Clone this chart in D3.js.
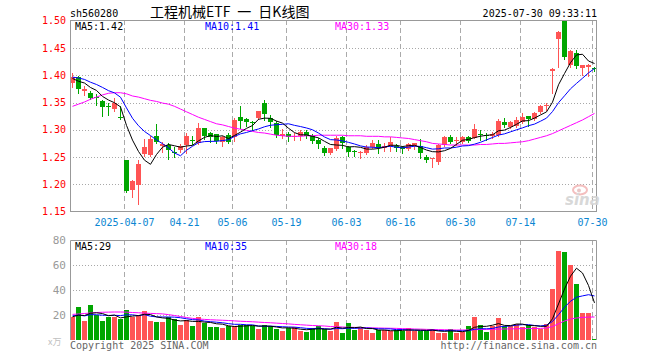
<!DOCTYPE html>
<html><head><meta charset="utf-8">
<script src="https://cdn.jsdelivr.net/npm/d3@7/dist/d3.min.js"></script>
<style>body{margin:0;background:#fff}svg{display:block}</style>
</head><body>
<script>
// ---------- data ----------
const dates = ["03-24","03-25","03-26","03-27","03-28","03-31","04-01","04-02","04-03","04-07",
"04-08","04-09","04-10","04-11","04-14","04-15","04-16","04-17","04-18","04-21",
"04-22","04-23","04-24","04-25","04-28","04-29","04-30","05-06","05-07","05-08",
"05-09","05-12","05-13","05-14","05-15","05-16","05-19","05-20","05-21","05-22",
"05-23","05-26","05-27","05-28","05-29","05-30","06-03","06-04","06-05","06-06",
"06-09","06-10","06-11","06-12","06-13","06-16","06-17","06-18","06-19","06-20",
"06-23","06-24","06-25","06-26","06-27","06-30","07-01","07-02","07-03","07-04",
"07-07","07-08","07-09","07-10","07-11","07-14","07-15","07-16","07-17","07-18",
"07-21","07-22","07-23","07-24","07-25","07-28","07-29","07-30"];
const opens = [1.386,1.397,1.372,1.368,1.360,1.352,1.343,1.339,1.324,1.245,
1.190,1.198,1.255,1.254,1.289,1.271,1.272,1.259,1.263,1.272,
1.281,1.275,1.303,1.294,1.292,1.278,1.291,1.287,1.323,1.320,
1.315,1.322,1.350,1.321,1.313,1.288,1.292,1.287,1.289,1.295,
1.288,1.282,1.267,1.257,1.264,1.286,1.268,1.261,1.259,1.257,
1.269,1.274,1.267,1.271,1.271,1.269,1.265,1.270,1.271,1.250,
1.247,1.240,1.272,1.287,1.279,1.278,1.286,1.285,1.293,1.291,
1.288,1.291,1.314,1.305,1.307,1.315,1.325,1.320,1.333,1.344,
1.408,1.466,1.502,1.418,1.441,1.414,1.416,1.413];
const highs = [1.404,1.398,1.380,1.372,1.366,1.355,1.350,1.358,1.343,1.245,
1.207,1.245,1.283,1.288,1.311,1.277,1.276,1.269,1.273,1.294,
1.289,1.312,1.304,1.295,1.293,1.288,1.294,1.321,1.343,1.321,
1.316,1.335,1.354,1.327,1.316,1.301,1.295,1.294,1.299,1.299,
1.292,1.285,1.270,1.267,1.288,1.289,1.271,1.263,1.261,1.272,
1.281,1.281,1.276,1.286,1.273,1.270,1.276,1.276,1.283,1.254,
1.249,1.274,1.289,1.290,1.286,1.289,1.288,1.311,1.299,1.294,
1.295,1.319,1.321,1.317,1.324,1.330,1.326,1.333,1.345,1.349,
1.413,1.482,1.503,1.447,1.446,1.418,1.420,1.416];
const lows = [1.378,1.368,1.364,1.356,1.345,1.326,1.327,1.334,1.319,1.186,
1.177,1.163,1.252,1.251,1.275,1.259,1.246,1.250,1.260,1.258,
1.274,1.274,1.283,1.277,1.275,1.270,1.275,1.280,1.303,1.307,
1.300,1.320,1.318,1.305,1.286,1.285,1.279,1.282,1.282,1.285,
1.276,1.267,1.254,1.255,1.262,1.266,1.251,1.252,1.248,1.256,
1.266,1.258,1.261,1.261,1.261,1.258,1.262,1.264,1.248,1.241,
1.231,1.238,1.270,1.275,1.272,1.276,1.277,1.284,1.282,1.281,
1.285,1.289,1.305,1.303,1.305,1.313,1.307,1.318,1.331,1.337,
1.368,1.416,1.430,1.415,1.413,1.401,1.399,1.408];
const closes = [1.396,1.374,1.374,1.359,1.358,1.341,1.341,1.349,1.321,1.188,
1.206,1.237,1.269,1.283,1.278,1.273,1.262,1.257,1.270,1.289,
1.279,1.303,1.289,1.287,1.280,1.286,1.277,1.318,1.317,1.315,
1.312,1.334,1.329,1.315,1.290,1.293,1.287,1.289,1.295,1.289,
1.279,1.274,1.257,1.266,1.284,1.276,1.260,1.259,1.260,1.268,
1.275,1.266,1.271,1.278,1.267,1.264,1.274,1.275,1.257,1.244,
1.249,1.272,1.286,1.278,1.281,1.287,1.280,1.302,1.291,1.289,
1.292,1.317,1.308,1.315,1.318,1.323,1.320,1.331,1.344,1.346,
1.412,1.480,1.434,1.444,1.417,1.418,1.418,1.411];
const volumes = [18.7,26.7,15.5,28.0,20.0,15.5,18.1,18.1,16.8,24.0,
18.7,20.0,23.5,15.5,14.7,14.7,18.1,16.8,12.0,16.0,
11.5,18.1,13.9,10.7,10.7,9.9,11.5,11.2,12.0,12.0,
11.2,8.8,12.0,11.2,8.8,7.5,9.3,10.1,7.5,6.7,
9.3,11.5,8.5,7.5,14.1,5.9,13.9,8.0,9.9,8.0,
5.9,8.0,8.0,7.2,8.0,7.2,9.9,7.2,7.2,7.2,
8.5,5.9,5.9,8.8,5.9,6.7,11.2,18.4,12.0,6.4,
11.2,17.6,11.2,11.2,12.8,10.7,12.0,10.7,8.5,12.8,
40.8,71.5,70.4,59.7,44.8,21.6,21.6,0.8];
// closes / volumes of the sessions just before the window (for MA5/MA10)
const priorCloses = [1.390,1.400,1.410,1.400,1.395,1.400,1.390,1.400,1.385];
const priorVolumes = [20,22,18,21,19,20,17,19,18];
// MA30 lines
const ma30Price = [1.343,1.347,1.351,1.356,1.360,1.364,1.367,1.368,1.368,1.366,
1.362,1.360,1.357,1.354,1.352,1.349,1.347,1.343,1.338,1.333,
1.328,1.323,1.319,1.315,1.311,1.309,1.306,1.303,1.301,1.299,
1.297,1.295,1.294,1.292,1.290,1.289,1.288,1.288,1.288,1.289,
1.289,1.290,1.290,1.290,1.290,1.290,1.289,1.289,1.289,1.288,
1.288,1.288,1.287,1.287,1.286,1.285,1.284,1.282,1.280,1.278,
1.275,1.274,1.273,1.272,1.272,1.272,1.272,1.272,1.273,1.273,
1.274,1.275,1.275,1.276,1.277,1.278,1.280,1.283,1.286,1.289,
1.293,1.298,1.303,1.308,1.313,1.318,1.324,1.330];
const ma30Volume = [20.5,20.8,21.2,21.6,22.0,22.2,22.3,22.4,22.4,22.3,
22.0,21.8,21.5,21.3,21.1,20.9,20.3,19.6,18.8,18.0,
17.3,16.8,16.5,16.2,16.0,15.8,15.6,15.3,15.0,14.8,
14.6,14.3,14.0,13.8,13.5,13.2,12.9,12.5,12.2,11.9,
11.6,11.4,11.2,10.8,10.6,10.4,10.2,10.1,9.9,9.8,
9.7,9.6,9.5,9.4,9.3,9.1,9.0,8.8,8.7,8.5,
8.4,8.3,8.2,8.1,8.0,8.0,8.1,8.3,8.4,8.5,
8.6,8.7,8.8,8.9,9.0,9.1,9.1,9.2,9.3,9.6,
10.8,13.0,15.2,16.8,17.6,18.1,18.3,18.4];
const priceTicks = [1.50,1.45,1.40,1.35,1.30,1.25,1.20,1.15];
const volumeTicks = [80,60,40,20];
const labelDates = ["04-07","04-21","05-06","05-19","06-03","06-16","06-30","07-14","07-30"];
const labelTexts = ["2025-04-07","04-21","05-06","05-19","06-03","06-16","06-30","07-14","07-30"];

// ---------- drawing ----------
const MONO = "'DejaVu Sans Mono', 'Liberation Mono', monospace";
const RED = "#ff5454", GREEN = "#00a600";
const L = 70, R = 597, T = 20, B = 211, VT = 240, VB = 340;
const n = dates.length;

const svg = d3.select("body").append("svg").attr("width", 660).attr("height", 360)
  .style("font-family", MONO);

const x = d3.scaleLinear().domain([0, n - 1]).range([72.5, 72.5 + 6 * (n - 1)]);
const y = d3.scaleLinear().domain([1.15, 1.50]).range([211.5, 20.8]);
const yv = d3.scaleLinear().domain([0, 80]).range([VB, VT]);

function movingAvg(series, prior, k) {
  const all = prior.concat(series);
  const off = prior.length;
  return series.map((_, i) => d3.mean(all.slice(off + i - k + 1, off + i + 1)));
}
const ma5 = movingAvg(closes, priorCloses, 5);
const ma10 = movingAvg(closes, priorCloses, 10);
const vma5 = movingAvg(volumes, priorVolumes, 5);
const vma10 = movingAvg(volumes, priorVolumes, 10);

const defs = svg.append("defs");
defs.append("clipPath").attr("id", "clipMain").append("rect")
  .attr("x", L).attr("y", T).attr("width", R - L).attr("height", B - T);
defs.append("clipPath").attr("id", "clipVol").append("rect")
  .attr("x", L).attr("y", VT).attr("width", R - L).attr("height", VB - VT);

// header
svg.append("text").attr("x", 70).attr("y", 16.5).attr("font-size", 10).attr("fill", "#000").text("sh560280");
svg.append("text").attr("x", 150).attr("y", 16.5)
  .attr("font-family", "'Noto Sans CJK SC', sans-serif").attr("font-size", 14).attr("fill", "#000")
  .text("工程机械ETF\u2002一\u2002日K线图");
svg.append("text").attr("x", 597).attr("y", 16.5).attr("text-anchor", "end").attr("font-size", 10)
  .attr("fill", "#000").text("2025-07-30 09:33:11");

// horizontal grid (price)
svg.append("g").selectAll("line").data(priceTicks.filter(t => t < 1.50 && t > 1.15)).join("line")
  .attr("x1", L).attr("x2", R)
  .attr("y1", d => Math.round(y(d)) + 0.5).attr("y2", d => Math.round(y(d)) + 0.5)
  .attr("stroke", "#a8a8a8").attr("stroke-dasharray", "1,2");
// horizontal grid (volume)
svg.append("g").selectAll("line").data(volumeTicks.filter(t => t < 80)).join("line")
  .attr("x1", L).attr("x2", R)
  .attr("y1", d => Math.round(yv(d)) + 0.5).attr("y2", d => Math.round(yv(d)) + 0.5)
  .attr("stroke", "#a8a8a8").attr("stroke-dasharray", "1,2");

// vertical grid
const labelIdx = labelDates.map(d => dates.indexOf(d));
const gx = i => Math.round(x(i) - 2.5) + 0.5;
const vg = svg.append("g").attr("stroke", "#aaa").attr("stroke-dasharray", "5,3");
labelIdx.forEach(i => {
  vg.append("line").attr("x1", gx(i)).attr("x2", gx(i)).attr("y1", T).attr("y2", B);
  vg.append("line").attr("x1", gx(i)).attr("x2", gx(i)).attr("y1", VT).attr("y2", VB);
});

// price axis labels
svg.append("g").selectAll("text").data(priceTicks).join("text")
  .attr("x", 66).attr("y", d => y(d) + 3.5).attr("text-anchor", "end")
  .attr("font-size", 10).attr("fill", "#ff0000").text(d => d.toFixed(2));
// volume axis labels
svg.append("g").selectAll("text").data(volumeTicks).join("text")
  .attr("x", 66).attr("y", d => yv(d) + 4).attr("text-anchor", "end")
  .attr("font-size", 11).attr("fill", "#999").text(d => d);

// date labels
svg.append("g").selectAll("text").data(labelIdx).join("text")
  .attr("x", i => gx(i)).attr("y", 225.5).attr("text-anchor", "middle")
  .attr("font-size", 10).attr("fill", "#0a86d2").text((i, k) => labelTexts[k]);

// candles
const cg = svg.append("g").attr("clip-path", "url(#clipMain)").attr("shape-rendering", "crispEdges");
d3.range(n).forEach(i => {
  const up = closes[i] >= opens[i];
  const col = up ? RED : GREEN;
  cg.append("line").attr("x1", x(i)).attr("x2", x(i))
    .attr("y1", Math.round(y(highs[i]))).attr("y2", Math.round(y(lows[i])) + 1)
    .attr("stroke", col);
  const top = Math.round(y(Math.max(opens[i], closes[i])));
  const bot = Math.round(y(Math.min(opens[i], closes[i])));
  cg.append("rect").attr("x", x(i) - 2.5).attr("width", 5)
    .attr("y", top).attr("height", Math.max(1, bot - top)).attr("fill", col);
});

// volume bars
const vb = svg.append("g").attr("clip-path", "url(#clipVol)").attr("shape-rendering", "crispEdges");
vb.selectAll("rect").data(volumes).join("rect")
  .attr("x", (d, i) => x(i) - 2.5).attr("width", 5)
  .attr("y", d => Math.round(yv(d))).attr("height", d => VB - Math.round(yv(d)))
  .attr("fill", (d, i) => closes[i] >= opens[i] ? RED : GREEN);

// MA lines
const lineP = d3.line().x((d, i) => x(i)).y(d => y(d));
const lineV = d3.line().x((d, i) => x(i)).y(d => yv(d));
const mg = svg.append("g").attr("clip-path", "url(#clipMain)").attr("fill", "none").attr("stroke-width", 1);
mg.append("path").attr("d", lineP(ma30Price)).attr("stroke", "#ff00ff");
mg.append("path").attr("d", lineP(ma10)).attr("stroke", "#0000ff");
mg.append("path").attr("d", lineP(ma5)).attr("stroke", "#000");
const vmg = svg.append("g").attr("clip-path", "url(#clipVol)").attr("fill", "none").attr("stroke-width", 1);
vmg.append("path").attr("d", lineV(ma30Volume)).attr("stroke", "#ff00ff");
vmg.append("path").attr("d", lineV(vma10)).attr("stroke", "#0000ff");
vmg.append("path").attr("d", lineV(vma5)).attr("stroke", "#000");

// frames
svg.append("rect").attr("x", L + 0.5).attr("y", T + 0.5).attr("width", R - L - 1).attr("height", B - T)
  .attr("fill", "none").attr("stroke", "#999");
svg.append("path").attr("d", `M${L + 0.5},${VB}V${VT + 0.5}H${R - 0.5}V${VB}`)
  .attr("fill", "none").attr("stroke", "#999");

// MA legends
const last = n - 1;
const fmt2 = d3.format(".2f");
svg.append("text").attr("x", 75).attr("y", 30).attr("font-size", 10).attr("fill", "#000").text("MA5:" + fmt2(ma5[last]));
svg.append("text").attr("x", 205).attr("y", 30).attr("font-size", 10).attr("fill", "#0000ff").text("MA10:" + fmt2(ma10[last]));
svg.append("text").attr("x", 335).attr("y", 30).attr("font-size", 10).attr("fill", "#ff00ff").text("MA30:" + fmt2(ma30Price[last]));
svg.append("text").attr("x", 75).attr("y", 250).attr("font-size", 10).attr("fill", "#000").text("MA5:" + Math.floor(vma5[last]));
svg.append("text").attr("x", 205).attr("y", 250).attr("font-size", 10).attr("fill", "#0000ff").text("MA10:" + Math.floor(vma10[last]));
svg.append("text").attr("x", 335).attr("y", 250).attr("font-size", 10).attr("fill", "#ff00ff").text("MA30:" + Math.floor(ma30Volume[last]));

// sina watermark
const wm = svg.append("g").attr("opacity", 0.9);
wm.append("ellipse").attr("cx", 580).attr("cy", 190).attr("rx", 7).attr("ry", 4.5)
  .attr("fill", "none").attr("stroke", "#f3b8b8").attr("stroke-width", 2);
wm.append("circle").attr("cx", 579).attr("cy", 190.5).attr("r", 2).attr("fill", "#e8c0c0");
wm.append("text").attr("x", 565).attr("y", 205).attr("font-family", "'DejaVu Sans', sans-serif")
  .attr("font-size", 15).attr("font-weight", "bold").attr("font-style", "italic")
  .attr("fill", "#d4d4d4").text("sina");

// footer
svg.append("text").attr("x", 48).attr("y", 345).attr("font-family", "'Noto Sans CJK SC', sans-serif")
  .attr("font-size", 9).attr("fill", "#c0c0c0").text("x万");
svg.append("text").attr("x", 70).attr("y", 349).attr("font-size", 10).attr("fill", "#666").text("Copyright 2025 SINA.COM");
svg.append("text").attr("x", 597).attr("y", 349).attr("text-anchor", "end").attr("font-size", 10)
  .attr("fill", "#666").text("http://finance.sina.com.cn");
</script>
</body></html>
